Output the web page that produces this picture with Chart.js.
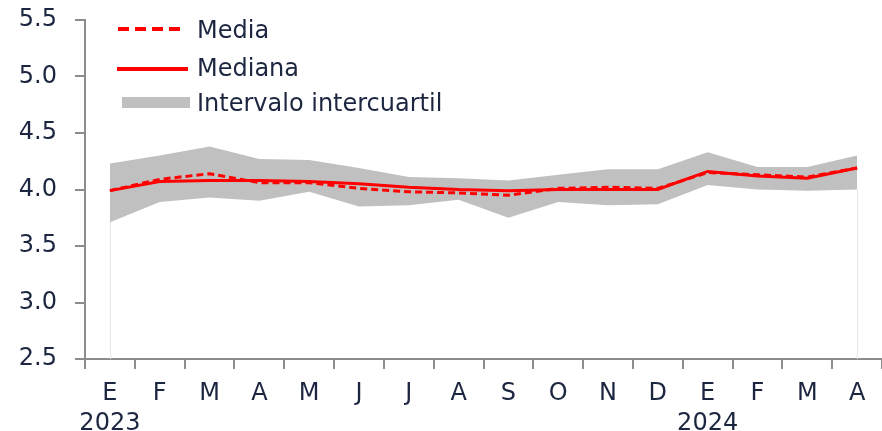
<!DOCTYPE html>
<html>
<head>
<meta charset="utf-8">
<script src="https://cdn.jsdelivr.net/npm/chart.js@4"></script>
<style>
  html, body { margin: 0; padding: 0; background: #fff; }
  #wrap { position: relative; width: 882px; height: 431px; }
  #legend { position: absolute; left: 0; top: 0; font-family: "DejaVu Sans", sans-serif; font-size: 24px; color: #1c2640; }
  .item { position: absolute; white-space: nowrap; line-height: 30px; }
  .swatch { position: absolute; }
</style>
</head>
<body>
<div id="wrap">
  <canvas id="chart" width="882" height="431"></canvas>
  <div id="legend">
    <div class="swatch" style="left:118px;top:27px;width:68px;height:4px;background:repeating-linear-gradient(to right,#ff0000 0 11px,transparent 11px 17px);"></div>
    <div class="item" style="left:197px;top:15px;">Media</div>
    <div class="swatch" style="left:117px;top:67px;width:71px;height:4px;background:#ff0000;"></div>
    <div class="item" style="left:197px;top:53px;">Mediana</div>
    <div class="swatch" style="left:122px;top:97px;width:68px;height:11px;background:#c0c0c0;"></div>
    <div class="item" style="left:197px;top:88px;">Intervalo intercuartil</div>
  </div>
</div>
<script>
// Encuesta de expectativas: media, mediana e intervalo intercuartil
const months = ["E", "F", "M", "A", "M", "J", "J", "A", "S", "O", "N", "D", "E", "F", "M", "A"];
const years = { 0: "2023", 12: "2024" };

const media   = [3.99, 4.09, 4.14, 4.06, 4.06, 4.01, 3.98, 3.97, 3.95, 4.01, 4.02, 4.01, 4.15, 4.13, 4.11, 4.19];
const mediana = [3.99, 4.07, 4.08, 4.08, 4.07, 4.05, 4.02, 4.00, 3.99, 4.00, 4.00, 4.00, 4.16, 4.12, 4.10, 4.19];
const q3      = [4.23, 4.30, 4.38, 4.27, 4.26, 4.19, 4.11, 4.10, 4.08, 4.13, 4.18, 4.18, 4.33, 4.20, 4.20, 4.30];
const q1      = [3.71, 3.89, 3.93, 3.90, 3.98, 3.85, 3.86, 3.91, 3.75, 3.89, 3.86, 3.87, 4.04, 4.00, 3.99, 4.00];

const yTicks = [2.5, 3.0, 3.5, 4.0, 4.5, 5.0, 5.5];

const labels = months.map((m, i) => years[i] ? [m, years[i]] : m);
const textColor = "#1c2640";
const axisColor = "#8c8c8c";

// faint edges at the first and last month, under the band
const edgeLines = {
  id: "edgeLines",
  beforeDatasetsDraw(chart) {
    const x = chart.scales.x, y = chart.scales.y, ctx = chart.ctx;
    ctx.save();
    ctx.strokeStyle = "#e6e6e6";
    ctx.lineWidth = 1;
    [0, months.length - 1].forEach(i => {
      const px = Math.round(x.getPixelForValue(i)) + 0.5;
      ctx.beginPath();
      ctx.moveTo(px, y.getPixelForValue(q1[i]));
      ctx.lineTo(px, y.bottom);
      ctx.stroke();
    });
    ctx.restore();
  }
};

new Chart(document.getElementById("chart").getContext("2d"), {
  type: "line",
  data: {
    labels,
    datasets: [
      { label: "Media", data: media, borderColor: "#ff0000", borderWidth: 3, borderDash: [7, 4], pointRadius: 0, fill: false, tension: 0 },
      { label: "Mediana", data: mediana, borderColor: "#ff0000", borderWidth: 3, pointRadius: 0, fill: false, tension: 0 },
      { label: "Intervalo intercuartil", data: q3, borderWidth: 0, borderColor: "rgba(0,0,0,0)", backgroundColor: "#c0c0c0", pointRadius: 0, fill: 3, tension: 0 },
      { label: "q1", data: q1, borderWidth: 0, borderColor: "rgba(0,0,0,0)", pointRadius: 0, fill: false, tension: 0 }
    ]
  },
  options: {
    responsive: false,
    animation: false,
    layout: { padding: { top: 20, right: 0, left: 0, bottom: 0 } },
    plugins: { legend: { display: false }, tooltip: { enabled: false } },
    scales: {
      x: {
        offset: true,
        grid: { display: true, drawOnChartArea: false, offset: true, tickLength: 10, color: axisColor, lineWidth: 2 },
        border: { color: axisColor, width: 2 },
        ticks: { color: textColor, font: { family: "DejaVu Sans", size: 24, lineHeight: 1.25 }, padding: 10, maxRotation: 0, autoSkip: false },
        afterFit(scale) { scale.height = 72; }
      },
      y: {
        min: 2.5, max: 5.5,
        afterBuildTicks(scale) { scale.ticks = yTicks.map(v => ({ value: v })); },
        grid: { display: true, drawOnChartArea: false, tickLength: 10, color: axisColor, lineWidth: 2 },
        border: { color: axisColor, width: 2 },
        ticks: { color: textColor, font: { family: "DejaVu Sans", size: 24 }, padding: 18, callback: v => v.toFixed(1) },
        afterFit(scale) { scale.width = 85; scale.paddingTop = 0; scale.paddingBottom = 0; }
      }
    }
  },
  plugins: [edgeLines]
});
</script>
</body>
</html>
